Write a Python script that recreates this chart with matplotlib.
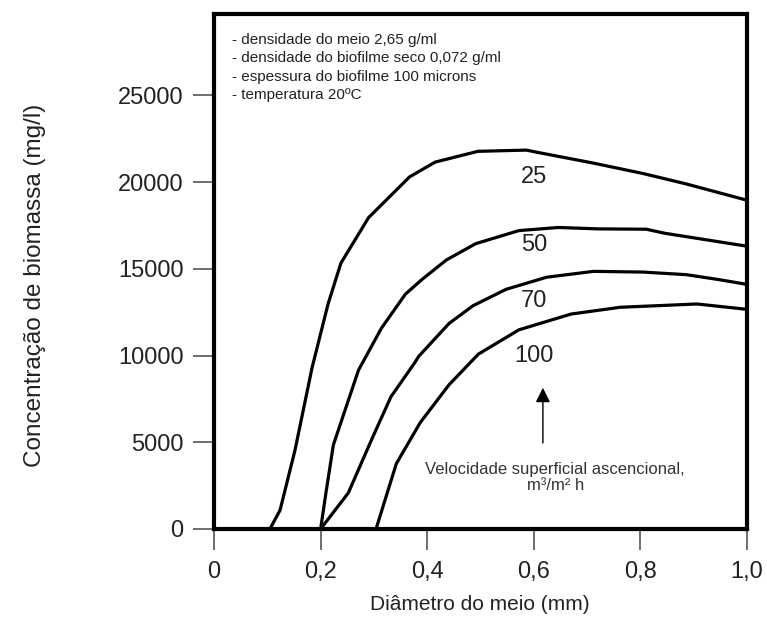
import matplotlib
matplotlib.use("Agg")
from matplotlib import pyplot as plt

plt.rcParams['font.family'] = ['Liberation Sans', 'DejaVu Sans']

# curvas: velocidade superficial ascencional (m3/m2 h)
x_25 = [0.105, 0.124, 0.152, 0.184, 0.214, 0.238, 0.290, 0.367, 0.415, 0.495, 0.586, 0.607, 0.712, 0.805, 0.886, 1.0]
y_25 = [0, 1090, 4550, 9300, 12970, 15320, 17950, 20300, 21150, 21770, 21840, 21710, 21090, 20490, 19890, 18950]

x_50 = [0.2, 0.210, 0.224, 0.271, 0.314, 0.359, 0.390, 0.436, 0.491, 0.572, 0.646, 0.720, 0.811, 0.845, 1.0]
y_50 = [0, 2079, 4851, 9150, 11570, 13534, 14380, 15508, 16448, 17200, 17380, 17300, 17280, 17050, 16300]

x_70 = [0.2, 0.252, 0.297, 0.332, 0.377, 0.384, 0.441, 0.486, 0.548, 0.624, 0.712, 0.805, 0.886, 0.946, 1.0]
y_70 = [0, 2079, 5247, 7623, 9603, 9950, 11850, 12870, 13816, 14512, 14850, 14810, 14660, 14380, 14100]

x_100 = [0.304, 0.342, 0.387, 0.441, 0.496, 0.572, 0.670, 0.762, 0.906, 1.0]
y_100 = [0, 3762, 6138, 8316, 10080, 11480, 12390, 12780, 12970, 12660]

curve_names = ["25", "50", "70", "100"]
name_pos = [(0.6, 20300), (0.6, 16350), (0.6, 13160), (0.6, 10000)]

xticks = [0, 0.2, 0.4, 0.6, 0.8, 1.0]
xtick_labels = ["0", "0,2", "0,4", "0,6", "0,8", "1,0"]
yticks = [0, 5000, 10000, 15000, 20000, 25000]

notes = ["- densidade do meio 2,65 g/ml",
         "- densidade do biofilme seco 0,072 g/ml",
         "- espessura do biofilme 100 microns",
         "- temperatura 20ºC"]

fig = plt.figure(figsize=(7.67, 6.26), dpi=100)
ax = fig.add_axes([0.279, 0.155, 0.695, 0.823])

for xs, ys in [(x_25, y_25), (x_50, y_50), (x_70, y_70), (x_100, y_100)]:
    ax.plot(xs, ys, color="black", lw=2.3, solid_joinstyle="round")

for name, (px, py) in zip(curve_names, name_pos):
    ax.text(px, py, name, ha="center", va="center", fontsize=17, color="#222222")

ax.text(0.034, 26600, "\n".join(notes), ha="left", va="center", fontsize=11,
        color="#222222", linespacing=1.4)

# seta
ax.annotate("", xy=(0.617, 8300), xytext=(0.617, 4800),
            arrowprops=dict(arrowstyle="-|>", color="black", lw=1, mutation_scale=22))
ax.text(0.64, 2950, "Velocidade superficial ascencional,\nm³/m² h", ha="center", va="center",
        fontsize=12, color="#333333", linespacing=1.05)

ax.set_xlim(0, 1)
ax.set_ylim(0, 29700)
ax.set_xticks(xticks)
ax.set_xticklabels(xtick_labels)
ax.set_yticks(yticks)
ax.tick_params(axis="both", direction="out", length=15, width=1.2, color="#555555",
               labelsize=17, labelcolor="#222222")
ax.tick_params(axis="x", pad=8)
ax.tick_params(axis="y", pad=7)
for s in ax.spines.values():
    s.set_linewidth(3)
    s.set_color("black")

fig.text(480 / 767, 1 - 605 / 626, "Diâmetro do meio (mm)", ha="center", va="center",
         fontsize=15, color="#222222")
fig.text(35 / 767, 1 - 285 / 626, "Concentração de biomassa (mg/l)", ha="center", va="center",
         rotation=90, fontsize=17.5, color="#222222")

fig.savefig("out.png", dpi=100)
